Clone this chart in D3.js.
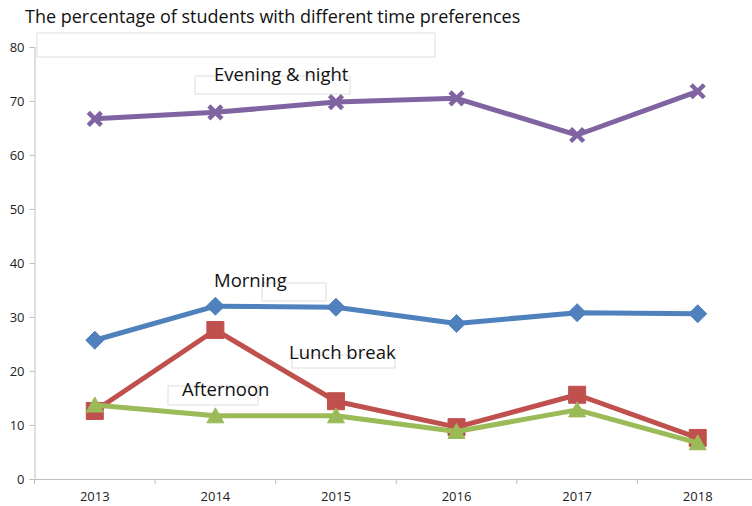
<!DOCTYPE html>
<html>
<head>
<meta charset="utf-8">
<script src="https://cdn.jsdelivr.net/npm/d3@7"></script>
<style>
  body { margin: 0; background: #fff; }
  svg { display: block; }
</style>
</head>
<body>
<svg id="chart"></svg>
<script>
// chart data
const years = ['2013', '2014', '2015', '2016', '2017', '2018'];
const evening = [66.7, 67.9, 69.8, 70.5, 63.7, 71.8];
const morning = [25.7, 32.0, 31.8, 28.8, 30.8, 30.6];
const lunch = [12.6, 27.6, 14.4, 9.6, 15.6, 7.6];
const afternoon = [13.7, 11.7, 11.7, 8.8, 12.8, 6.7];
const yTicks = [0, 10, 20, 30, 40, 50, 60, 70, 80];

const width = 752;
const height = 506;
const margin = { top: 47, right: -6, bottom: 27, left: 34.5 };

const svg = d3.select('#chart')
  .attr('width', width)
  .attr('height', height);

const x = d3.scaleBand()
  .domain(years)
  .range([margin.left, width - margin.right]);

const y = d3.scaleLinear()
  .domain([0, 80])
  .range([height - margin.bottom, margin.top]);

const font = '"Open Sans", Lato, sans-serif';
const tickFont = '"Liberation Sans Narrow", "Open Sans", sans-serif';

// title
svg.append('text')
  .attr('x', 25)
  .attr('y', 23)
  .attr('font-family', font)
  .attr('font-size', 18)
  .attr('fill', '#111')
  .text('The percentage of students with different time preferences');

// faint leftover label boxes
const boxes = [
  [37, 33, 398, 24],
  [195, 76, 155, 18],
  [262, 283, 64, 18],
  [292, 355, 103, 13],
  [168, 386, 90, 19]
];
svg.append('g')
  .selectAll('rect')
  .data(boxes)
  .join('rect')
  .attr('x', d => d[0]).attr('y', d => d[1])
  .attr('width', d => d[2]).attr('height', d => d[3])
  .attr('fill', 'none')
  .attr('stroke', '#dedede')
  .attr('stroke-width', 1);

// y axis
const yAxis = svg.append('g')
  .attr('transform', `translate(${margin.left},0)`)
  .call(d3.axisLeft(y).tickValues(yTicks).tickSize(5).tickPadding(5));
yAxis.select('.domain').attr('stroke', '#bfbfbf');
yAxis.selectAll('line').attr('stroke', '#bfbfbf');
yAxis.selectAll('text')
  .attr('font-family', font)
  .attr('font-size', 13)
  .attr('fill', '#222');

// x axis with ticks at category boundaries
const xAxis = svg.append('g')
  .attr('transform', `translate(0,${y(0)})`)
  .call(d3.axisBottom(x).tickSize(0).tickPadding(13));
xAxis.select('.domain').attr('stroke', '#bfbfbf');
xAxis.selectAll('text')
  .attr('font-family', tickFont)
  .attr('font-size', 13)
  .attr('fill', '#222');
xAxis.selectAll('.bound')
  .data(years)
  .join('line')
  .attr('class', 'bound')
  .attr('x1', d => x(d)).attr('x2', d => x(d))
  .attr('y1', 0).attr('y2', 5)
  .attr('stroke', '#bfbfbf');

const cx = d => x(d) + x.bandwidth() / 2;

const series = [
  { name: 'Evening & night', values: evening, color: '#8064a2', symbol: 'cross' },
  { name: 'Morning', values: morning, color: '#4f81bd', symbol: 'diamond' },
  { name: 'Lunch break', values: lunch, color: '#c0504d', symbol: 'square' },
  { name: 'Afternoon', values: afternoon, color: '#9bbb59', symbol: 'triangle' }
];

const line = d3.line()
  .x(d => cx(d.year))
  .y(d => y(d.value));

const markerPath = {
  cross: 'M-6.5,-6.5L6.5,6.5M-6.5,6.5L6.5,-6.5',
  diamond: 'M0,-9L9,0L0,9L-9,0Z',
  square: 'M-8.5,-8.5H8.5V8.5H-8.5Z',
  triangle: 'M0,-8L8.5,7H-8.5Z'
};

series.forEach(s => {
  const pts = years.map((yr, i) => ({ year: yr, value: s.values[i] }));
  const g = svg.append('g');
  g.append('path')
    .datum(pts)
    .attr('d', line)
    .attr('fill', 'none')
    .attr('stroke', s.color)
    .attr('stroke-width', 5)
    .attr('stroke-linejoin', 'round');

  const mk = g.selectAll('path.mk')
    .data(pts)
    .join('path')
    .attr('class', 'mk')
    .attr('d', markerPath[s.symbol])
    .attr('transform', d => `translate(${cx(d.year)},${y(d.value)})`);

  if (s.symbol === 'cross') {
    mk.attr('stroke', s.color).attr('stroke-width', 4.5).attr('fill', 'none');
  } else {
    mk.attr('fill', s.color).attr('stroke', s.color).attr('stroke-width', 1).attr('stroke-linejoin', 'round');
  }
});

// series labels
const labels = [
  { text: 'Evening & night', x: 214, y: 81 },
  { text: 'Morning', x: 214, y: 287 },
  { text: 'Lunch break', x: 289, y: 359 },
  { text: 'Afternoon', x: 182, y: 396 }
];
svg.append('g')
  .selectAll('text')
  .data(labels)
  .join('text')
  .attr('x', d => d.x)
  .attr('y', d => d.y)
  .attr('font-family', font)
  .attr('font-size', 18.5)
  .attr('fill', '#111')
  .text(d => d.text);
</script>
</body>
</html>
